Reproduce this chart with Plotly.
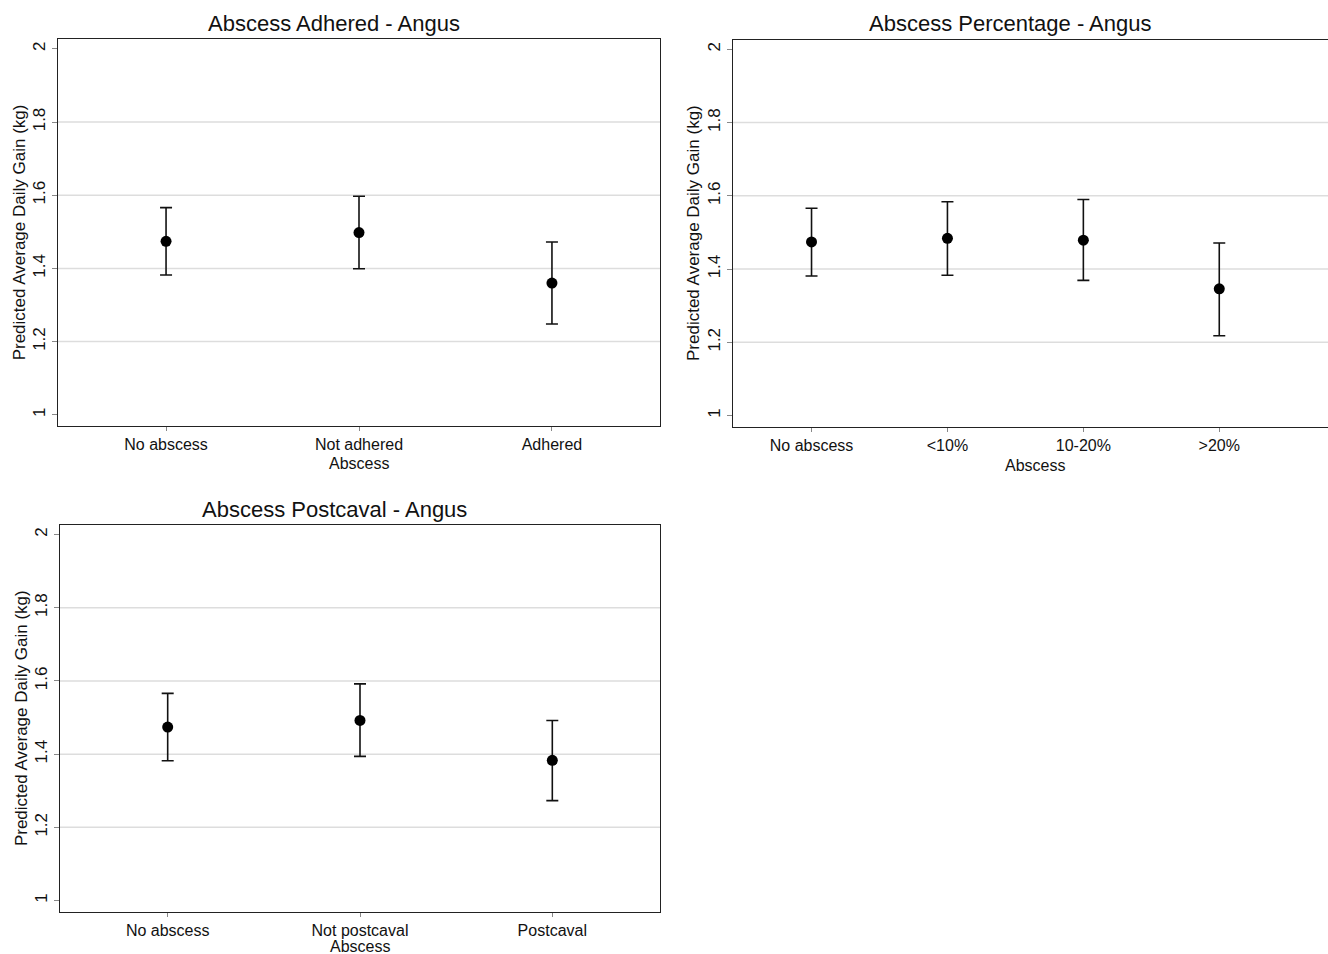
import plotly.graph_objects as go

# ---- data ----
cats1 = ["No abscess", "Not adhered", "Adhered"]
est1 = [1.474, 1.498, 1.360]
lo1 = [1.382, 1.399, 1.248]
hi1 = [1.566, 1.597, 1.472]

cats2 = ["No abscess", "<10%", "10-20%", ">20%"]
est2 = [1.474, 1.484, 1.479, 1.346]
lo2 = [1.381, 1.383, 1.369, 1.218]
hi2 = [1.566, 1.584, 1.590, 1.471]

cats3 = ["No abscess", "Not postcaval", "Postcaval"]
est3 = [1.474, 1.492, 1.383]
lo3 = [1.382, 1.394, 1.273]
hi3 = [1.566, 1.592, 1.492]

titles = ["Abscess Adhered - Angus", "Abscess Percentage - Angus", "Abscess Postcaval - Angus"]
ytitle = "Predicted Average Daily Gain (kg)"
xtitle = "Abscess"
yticks = [1, 1.2, 1.4, 1.6, 1.8, 2]
yticktext = ["1", "1.2", "1.4", "1.6", "1.8", "2"]

W, H = 1328, 954
FONT = "Liberation Sans, Arial, sans-serif"

def px(x):
    return x / W

def py(y):
    return 1 - y / H

fig = go.Figure()

panels = [
    dict(cats=cats1, est=est1, lo=lo1, hi=hi1, xd=[px(58), px(660)], yd=[py(425.7), py(39)],
         xr=[0.44, 3.56], ax="", mirror_y=True, title_x=334, title_y=23, ytx=19, xt_x=359, xt_y=463),
    dict(cats=cats2, est=est2, lo=lo2, hi=hi2, xd=[px(732.7), 1.0], yd=[py(426.5), py(39.5)],
         xr=[0.42, 4.80], ax="2", mirror_y=False, title_x=1010, title_y=23, ytx=694, xt_x=1035, xt_y=465),
    dict(cats=cats3, est=est3, lo=lo3, hi=hi3, xd=[px(60), px(660)], yd=[py(911.5), py(524.7)],
         xr=[0.44, 3.56], ax="3", mirror_y=True, title_x=335, title_y=509, ytx=21, xt_x=360, xt_y=946.5),
]

annotations = []
for i, p in enumerate(panels):
    n = len(p["cats"])
    xs = list(range(1, n + 1))
    fig.add_trace(go.Scatter(
        x=xs, y=p["est"], mode="markers",
        marker=dict(color="black", size=11),
        error_y=dict(type="data", symmetric=False,
                     array=[h - e for h, e in zip(p["hi"], p["est"])],
                     arrayminus=[e - l for e, l in zip(p["est"], p["lo"])],
                     color="#111111", thickness=1.6, width=6),
        xaxis="x" + p["ax"], yaxis="y" + p["ax"], showlegend=False,
    ))
    xa = dict(domain=p["xd"], range=p["xr"], tickvals=xs, ticktext=p["cats"],
              showgrid=False, zeroline=False, showline=True, linecolor="#222222", linewidth=1.4,
              mirror=True, ticks="outside", ticklen=4, tickcolor="#888888", tickwidth=1.2,
              tickfont=dict(family=FONT, size=16, color="#111111"),
              anchor="y" + p["ax"], fixedrange=True)
    ya = dict(domain=p["yd"], range=[0.970, 2.027], tickvals=yticks, ticktext=yticktext,
              tickangle=-90, showgrid=False, zeroline=False, showline=True, linecolor="#222222",
              linewidth=1.4, mirror=p["mirror_y"], ticks="outside", ticklen=5, tickcolor="#888888",
              tickwidth=1.2, tickfont=dict(family=FONT, size=17, color="#111111"),
              anchor="x" + p["ax"], fixedrange=True)
    fig.update_layout(**{"xaxis" + p["ax"]: xa, "yaxis" + p["ax"]: ya})
    for g in [1.2, 1.4, 1.6, 1.8]:
        fig.add_shape(type="line", xref="x" + p["ax"] + " domain", yref="y" + p["ax"],
                      x0=0, x1=1, y0=g, y1=g, line=dict(color="#dddddd", width=1.5), layer="below")
    annotations.append(dict(text=titles[i], x=px(p["title_x"]), y=py(p["title_y"]), xref="paper", yref="paper",
                            showarrow=False, xanchor="center", yanchor="middle",
                            font=dict(family=FONT, size=22, color="#111111")))
    ymid = (p["yd"][0] + p["yd"][1]) / 2
    annotations.append(dict(text=ytitle, x=px(p["ytx"]), y=ymid, xref="paper", yref="paper",
                            showarrow=False, textangle=-90, xanchor="center", yanchor="middle",
                            font=dict(family=FONT, size=17, color="#111111")))
    annotations.append(dict(text=xtitle, x=px(p["xt_x"]), y=py(p["xt_y"]), xref="paper", yref="paper",
                            showarrow=False, xanchor="center", yanchor="middle",
                            font=dict(family=FONT, size=16, color="#111111")))

fig.update_layout(width=W, height=H, margin=dict(l=0, r=0, t=0, b=0),
                  paper_bgcolor="white", plot_bgcolor="white",
                  annotations=annotations, showlegend=False)

fig.write_html("out.html")
